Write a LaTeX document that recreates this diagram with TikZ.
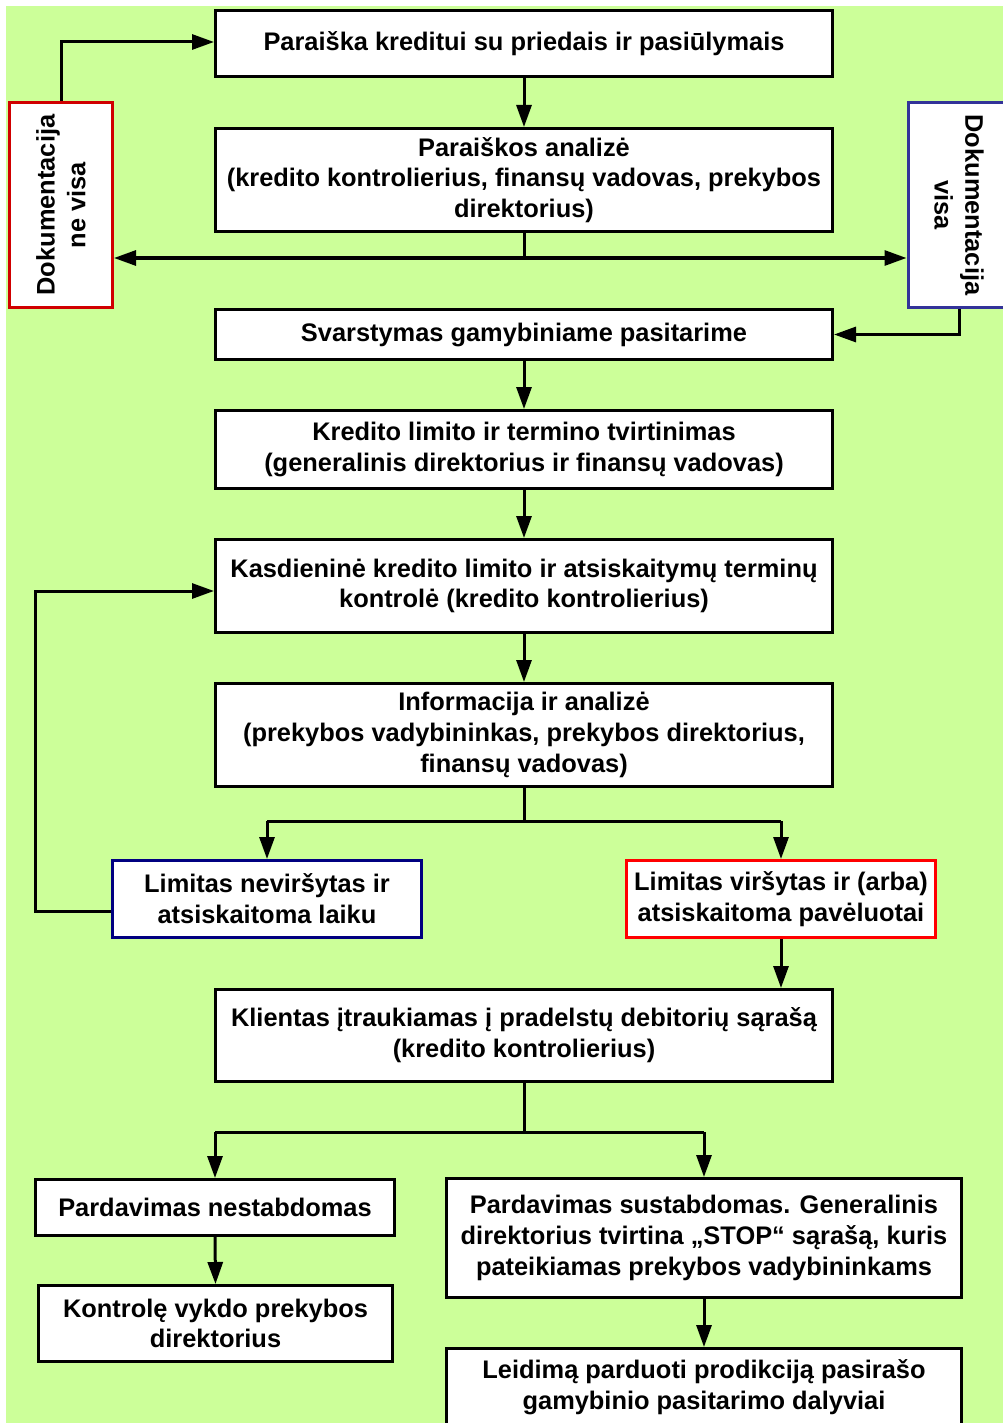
\documentclass[tikz,border=0pt]{standalone}
\usepackage{fontspec}
\setmainfont{Liberation Sans}
\usetikzlibrary{arrows.meta,calc}
\definecolor{bg}{HTML}{CCFF99}
\definecolor{darkred}{HTML}{D00000}
\definecolor{navy}{HTML}{000080}
\definecolor{slateblue}{HTML}{333399}
\begin{document}
\begin{tikzpicture}[x=1pt,y=-1pt,
  box/.style={draw=black, line width=3pt, fill=white, align=center,
    font=\bfseries\fontsize{25.4}{30.8}\selectfont, inner sep=0pt},
  boxtext/.style={align=center, font=\bfseries\fontsize{25.4}{30.8}\selectfont, inner sep=0pt},
  arr/.style={line width=3pt, -{Triangle[length=22pt,width=15pt]}},
  ln/.style={line width=3pt}]
\useasboundingbox (0,0) rectangle (1003,1423);
\fill[white] (0,0) rectangle (1003,1423);
\fill[bg] (6,6) rectangle (1003,1423);
\clip (0,0) rectangle (1003,1423);

% main column
\node[box, minimum width=617, minimum height=66] (b1) at (524,43.5)
  {Paraiška kreditui su priedais ir pasiūlymais};
\node[box, minimum width=617, minimum height=103] (b2) at (524,180)
  {Paraiškos analizė\\(kredito kontrolierius, finansų vadovas, prekybos\\direktorius)};
\node[box, minimum width=617, minimum height=50] (b3) at (524,334.5)
  {Svarstymas gamybiniame pasitarime};
\node[box, minimum width=617, minimum height=78] (b4) at (524,449.5)
  {Kredito limito ir termino tvirtinimas\\(generalinis direktorius ir finansų vadovas)};
\node[box, minimum width=617, minimum height=93] (b5) at (524,586)
  {Kasdieninė kredito limito ir atsiskaitymų terminų\\kontrolė (kredito kontrolierius)};
\node[box, minimum width=617, minimum height=103] (b6) at (524,735)
  {Informacija ir analizė\\(prekybos vadybininkas, prekybos direktorius,\\finansų vadovas)};
\node[box, draw=navy, minimum width=309, minimum height=77] (b7) at (267,899)
  {Limitas neviršytas ir\\atsiskaitoma laiku};
\node[box, draw=red, minimum width=309, minimum height=77] (b8) at (781,899)
  {Limitas viršytas ir (arba)\\atsiskaitoma pavėluotai};
\node[box, minimum width=617, minimum height=92] (b9) at (524,1035.5)
  {Klientas įtraukiamas į pradelstų debitorių sąrašą\\(kredito kontrolierius)};
\node[box, minimum width=359, minimum height=56] (b10) at (215,1207.5)
  {Pardavimas nestabdomas};
\node[box, minimum width=354, minimum height=76] (b11) at (215.5,1323.5)
  {Kontrolę vykdo prekybos\\direktorius};
\node[box, minimum width=515, minimum height=119] (b12) at (704,1238)
  {Pardavimas sustabdomas. Generalinis\\direktorius tvirtina „STOP“ sąrašą, kuris\\pateikiamas prekybos vadybininkams};
\node[box, minimum width=515, minimum height=78] (b13) at (704,1387.5)
  {Leidimą parduoti prodikciją pasirašo\\gamybinio pasitarimo dalyviai};

% side boxes with vertical text
\node[box, draw=darkred, minimum width=103, minimum height=205] (nevisa) at (61,205) {};
\node[boxtext, rotate=90] (nevisatxt) at (nevisa) {Dokumentacija\\ne visa};
\node[box, draw=slateblue, minimum width=102, minimum height=205] (visa) at (959,205) {};
\node[boxtext, rotate=-90] (visatxt) at (visa) {Dokumentacija\\visa};

% connectors
\draw[arr] (nevisa.north) |- ($(b1.west)+(0,-1.5)$);
\draw[arr] (b1.south) -- (b2.north);
\draw[ln] (b2.south) -- ++(0,25) coordinate (j1);
\draw[arr] (j1) -- (j1 -| nevisa.east);
\draw[arr] (j1) -- (j1 -| visa.west);
\draw[arr] (visa.south) |- (b3.east);
\draw[arr] (b3.south) -- (b4.north);
\draw[arr] (b4.south) -- (b5.north);
\draw[arr] (b5.south) -- (b6.north);
\draw[ln] (b6.south) -- ++(0,33) coordinate (j2);
\draw[ln] (j2 -| b7.north) -- (j2 -| b8.north);
\draw[arr] (j2 -| b7.north) -- (b7.north);
\draw[arr] (j2 -| b8.north) -- (b8.north);
\draw[arr] ($(b7.west)+(0,12)$) -- ++(-76,0) |- ($(b5.west)+(0,5)$);
\draw[arr] (b8.south) -- (b8.south |- b9.north);
\draw[ln] (b9.south) -- ++(0,49) coordinate (j3);
\draw[ln] (j3 -| b10.north) -- (j3 -| b12.north);
\draw[arr] (j3 -| b10.north) -- (b10.north);
\draw[arr] (j3 -| b12.north) -- (b12.north);
\draw[arr] (b10.south) -- (b11.north);
\draw[arr] (b12.south) -- (b13.north);
\end{tikzpicture}
\end{document}
